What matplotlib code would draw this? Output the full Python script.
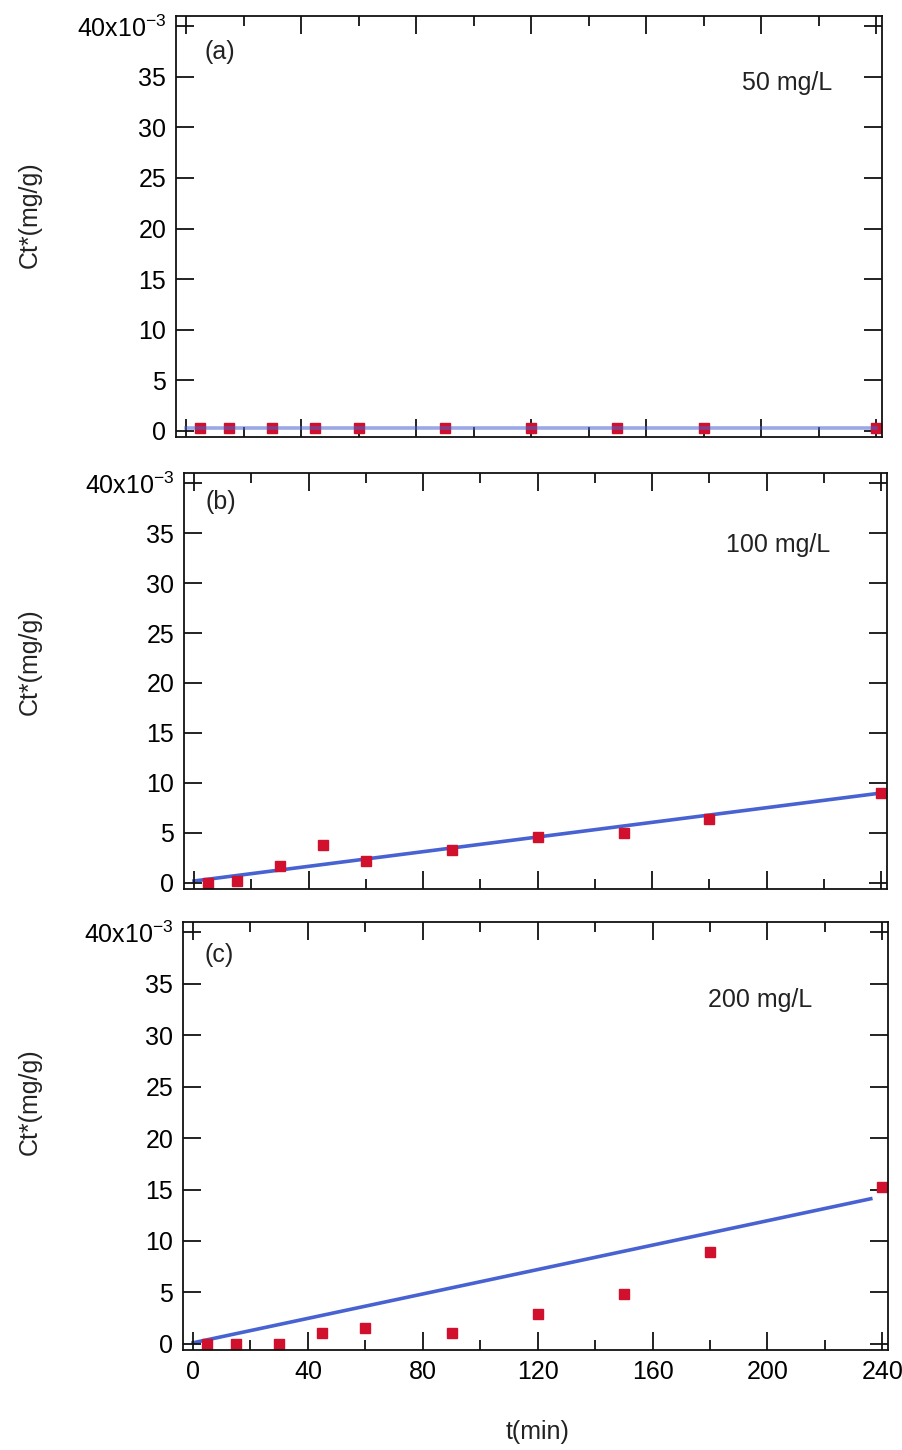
import matplotlib
matplotlib.use("Agg")
import matplotlib.pyplot as plt
from matplotlib.ticker import MultipleLocator, FuncFormatter

plt.rcParams['font.family'] = ['Liberation Sans', 'DejaVu Sans']
plt.rcParams['mathtext.fontset'] = 'custom'
plt.rcParams['mathtext.rm'] = 'Liberation Sans'
plt.rcParams['mathtext.default'] = 'regular'

# sampling times (min)
t = [5, 15, 30, 45, 60, 90, 120, 150, 180, 240]

# Ct* measured, in units of 1e-3 mg/g
ct_50 = [0.25, 0.25, 0.25, 0.25, 0.25, 0.25, 0.25, 0.25, 0.25, 0.25]
ct_100 = [0.0, 0.2, 1.7, 3.8, 2.2, 3.35, 4.6, 5.0, 6.4, 9.0]
ct_200 = [0.0, 0.0, 0.0, 1.1, 1.5, 1.1, 2.9, 4.8, 8.9, 15.2]

# fitted lines (end points), same units
fit_t_50 = [0, 240]
fit_50 = [0.3, 0.3]
fit_t_100 = [0, 240]
fit_100 = [0.2, 9.0]
fit_t_200 = [0, 236]
fit_200 = [0.1, 14.1]

W, H = 902, 1450
fig = plt.figure(figsize=(W / 100, H / 100), dpi=100)

def box(l, r, top, bot):
    return [l / W, 1 - bot / H, (r - l) / W, (bot - top) / H]

ax_a = fig.add_axes(box(176, 882, 16, 437))
ax_b = fig.add_axes(box(184, 887, 473, 889))
ax_c = fig.add_axes(box(183, 888, 922, 1350))

red = '#d0102c'
blue = '#4862d2'

def ylab(v, pos):
    v = int(round(v))
    if v == 40:
        return '40x10$^{-3}$'
    return str(v)

panels = [
    (ax_a, ct_50, fit_t_50, fit_50, '(a)', '50 mg/L', 0.041, 0.914, 0.929, 0.841, True),
    (ax_b, ct_100, fit_t_100, fit_100, '(b)', '100 mg/L', 0.030, 0.930, 0.919, 0.827, False),
    (ax_c, ct_200, fit_t_200, fit_200, '(c)', '200 mg/L', 0.031, 0.923, 0.892, 0.818, False),
]

for ax, ct, ft, fv, tag, conc, tx, ty, cx, cy, line_on_top in panels:
    ax.plot(t, ct, 's', color=red, markersize=7, zorder=2)
    if line_on_top:
        ax.plot(ft, fv, '-', color=blue, lw=2.6, alpha=0.55, zorder=3)
    else:
        ax.plot(ft, fv, '-', color=blue, lw=2.6, zorder=1)
    ax.set_xlim(-3.5, 242)
    ax.set_ylim(-0.6, 41)
    ax.xaxis.set_major_locator(MultipleLocator(40))
    ax.xaxis.set_minor_locator(MultipleLocator(20))
    ax.yaxis.set_major_locator(MultipleLocator(5))
    ax.yaxis.set_major_formatter(FuncFormatter(ylab))
    ax.tick_params(which='both', direction='in', top=True, right=True,
                   labelsize=18, color='#111111', width=1.3)
    ax.tick_params(which='major', length=13, pad=7)
    ax.tick_params(which='minor', length=7)
    ax.tick_params(axis='y', which='minor', left=False, right=False)
    for s in ax.spines.values():
        s.set_linewidth(1.3)
        s.set_color('#111111')
    ax.text(tx, ty, tag, transform=ax.transAxes, fontsize=18,
            ha='left', va='center', color='#222222')
    ax.text(cx, cy, conc, transform=ax.transAxes, fontsize=18,
            ha='right', va='center', color='#222222')

ax_a.tick_params(axis='x', labelbottom=False)
ax_b.tick_params(axis='x', labelbottom=False)

for yc in (215, 662, 1102):
    fig.text(30 / W, 1 - yc / H, 'Ct*(mg/g)', rotation=90, fontsize=18,
             ha='center', va='center', color='#222222')

fig.text(538 / W, 1 - 1432 / H, 't(min)', fontsize=18,
         ha='center', va='center', color='#222222')

fig.savefig('out.png', dpi=100)
